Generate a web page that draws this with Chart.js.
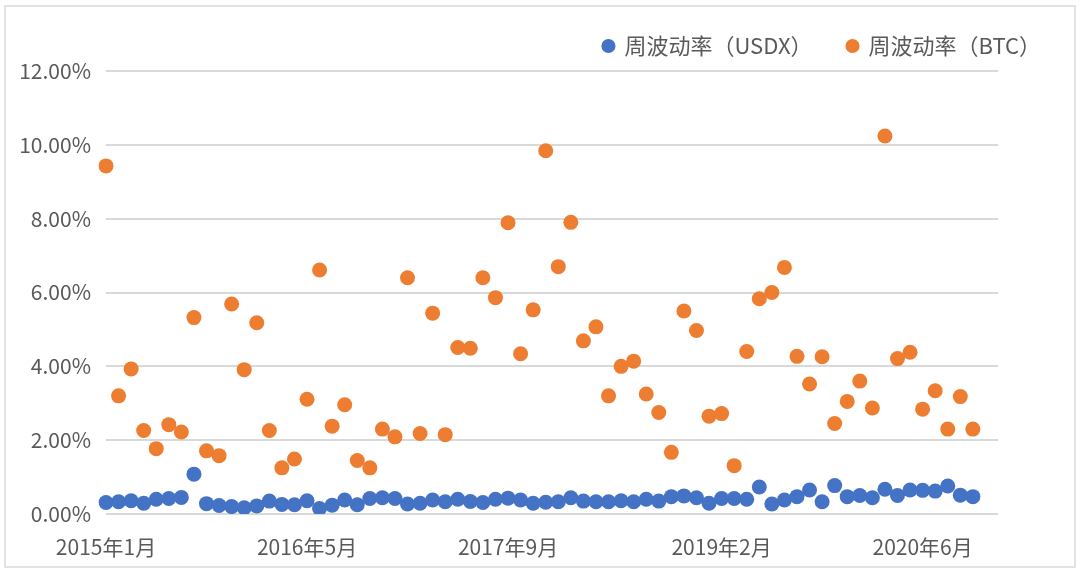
<!DOCTYPE html>
<html>
<head>
<meta charset="utf-8">
<script src="https://cdn.jsdelivr.net/npm/chart.js@4"></script>
<style>
  html, body { margin: 0; padding: 0; background: #fff; }
  #wrap { position: relative; width: 1080px; height: 571px; overflow: hidden; }
  #frame { position: absolute; left: 4px; top: 5px; width: 1068px; height: 559px; border: 2px solid #e3e3e3; }
  #grafico { position: absolute; left: 0; top: 0; }
</style>
</head>
<body>
<div id="wrap">
  <div id="frame"></div>
  <canvas id="grafico" width="1080" height="571"></canvas>
</div>
<script>
// meses de 2015年1月 a 2020年12月 (eixo de categorias)
const meses = [];
for (let a = 2015; a <= 2020; a++) {
  for (let m = 1; m <= 12; m++) meses.push(a + "年" + m + "月");
}

// rótulos visíveis no eixo x
const rotulosX = ["2015年1月", "2016年5月", "2017年9月", "2019年2月", "2020年6月"];

// volatilidade semanal (%)
const volUSDX = [
  0.31, 0.33, 0.36, 0.29, 0.40, 0.42, 0.45, 1.08, 0.28, 0.23,
  0.20, 0.17, 0.22, 0.35, 0.26, 0.25, 0.36, 0.15, 0.24, 0.38,
  0.25, 0.42, 0.44, 0.42, 0.27, 0.29, 0.38, 0.33, 0.40, 0.34,
  0.31, 0.40, 0.43, 0.38, 0.29, 0.32, 0.33, 0.44, 0.35, 0.33,
  0.33, 0.36, 0.33, 0.40, 0.35, 0.47, 0.49, 0.44, 0.29, 0.42,
  0.42, 0.40, 0.73, 0.27, 0.38, 0.47, 0.65, 0.33, 0.77, 0.47,
  0.50, 0.44, 0.67, 0.50, 0.65, 0.64, 0.62, 0.76, 0.51, 0.47
];
const volBTC = [
  9.43, 3.20, 3.93, 2.26, 1.77, 2.42, 2.22, 5.32, 1.71, 1.58,
  5.69, 3.91, 5.18, 2.26, 1.25, 1.49, 3.11, 6.61, 2.38, 2.96,
  1.45, 1.25, 2.30, 2.09, 6.40, 2.18, 5.44, 2.15, 4.51, 4.49,
  6.40, 5.86, 7.89, 4.34, 5.53, 9.84, 6.70, 7.90, 4.69, 5.07,
  3.20, 4.00, 4.14, 3.25, 2.75, 1.67, 5.50, 4.97, 2.65, 2.72,
  1.31, 4.40, 5.83, 6.00, 6.68, 4.27, 3.52, 4.26, 2.45, 3.05,
  3.60, 2.87, 10.24, 4.21, 4.38, 2.84, 3.34, 2.30, 3.18, 2.30
];

const ticksY = [0, 2, 4, 6, 8, 10, 12];

const fonte = "'Noto Sans CJK SC', 'Noto Sans', sans-serif";
const cinza = "#595959";

// altura fixa da legenda, para o topo da área do gráfico ficar na linha de 12%
const alturaLegenda = {
  id: "alturaLegenda",
  beforeInit(chart) {
    const fitOrig = chart.legend.fit;
    chart.legend.fit = function () {
      fitOrig.bind(chart.legend)();
      this.height = 71;
    };
  }
};

new Chart(document.getElementById("grafico"), {
  type: "line",
  data: {
    labels: meses,
    datasets: [
      {
        label: "周波动率（USDX）",
        data: volUSDX,
        showLine: false,
        backgroundColor: "#4472C4",
        borderColor: "#4472C4",
        pointRadius: 7.5,
        pointHoverRadius: 7.5,
        pointBorderWidth: 0
      },
      {
        label: "周波动率（BTC）",
        data: volBTC,
        showLine: false,
        backgroundColor: "#ED7D31",
        borderColor: "#ED7D31",
        pointRadius: 7.5,
        pointHoverRadius: 7.5,
        pointBorderWidth: 0
      }
    ]
  },
  options: {
    responsive: false,
    animation: false,
    devicePixelRatio: 1,
    layout: { padding: { top: 0, left: 6, right: 4, bottom: 12 } },
    plugins: {
      legend: {
        position: "top",
        align: "end",
        labels: {
          usePointStyle: true,
          pointStyle: "circle",
          boxWidth: 10,
          boxHeight: 10,
          padding: 35,
          color: cinza,
          font: { family: fonte, size: 22 }
        }
      },
      tooltip: { enabled: false }
    },
    scales: {
      x: {
        type: "category",
        offset: false,
        grid: { display: false },
        border: { display: false },
        ticks: {
          autoSkip: false,
          maxRotation: 0,
          minRotation: 0,
          padding: 12,
          color: cinza,
          font: { family: fonte, size: 21 },
          callback(v, i) {
            const l = meses[i];
            return rotulosX.includes(l) ? l : "";
          }
        },
        afterFit(s) { s.height = 45; }
      },
      y: {
        min: 0,
        max: 12,
        afterBuildTicks(s) { s.ticks = ticksY.map(v => ({ value: v })); },
        grid: { color: "#d9d9d9", lineWidth: 2, drawTicks: false },
        border: { display: false },
        ticks: {
          padding: 15,
          color: cinza,
          font: { family: fonte, size: 21 },
          callback: v => v.toFixed(2) + "%"
        },
        afterFit(s) { s.width = 100; }
      },
      // eixo vazio à direita só para reservar espaço
      direita: {
        position: "right",
        display: true,
        grid: { display: false },
        border: { display: false },
        ticks: { display: false },
        afterFit(s) { s.width = 78; }
      }
    }
  },
  plugins: [alturaLegenda]
});
</script>
</body>
</html>
